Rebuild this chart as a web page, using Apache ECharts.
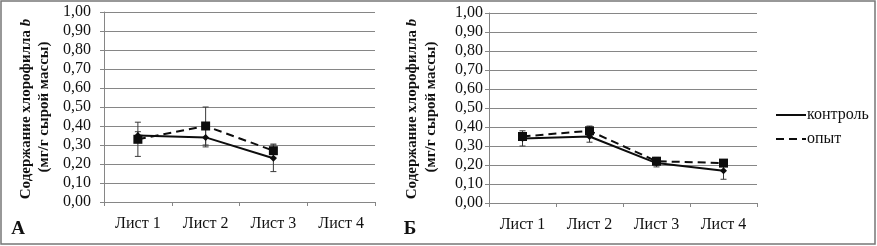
<!DOCTYPE html>
<html><head><meta charset="utf-8">
<script src="https://cdn.jsdelivr.net/npm/echarts@6/dist/echarts.min.js"></script>
<style>html,body{margin:0;padding:0;background:#fff}#c{width:877px;height:246px}</style>
</head><body><div id="c"></div>
<script>
const categories = ['Лист 1', 'Лист 2', 'Лист 3', 'Лист 4'];
const yTicks = [0, 0.1, 0.2, 0.3, 0.4, 0.5, 0.6, 0.7, 0.8, 0.9, 1.0];
// Panel A
const controlA = [0.35, 0.34, 0.23, null];
const controlAErr = [0.02, 0.05, 0.07, null];
const opytA = [0.33, 0.40, 0.27, null];
const opytAErr = [0.09, 0.10, 0.035, null];
// Panel Б
const controlB = [0.34, 0.35, 0.21, 0.17];
const controlBErr = [0.04, 0.03, 0.02, 0.045];
const opytB = [0.35, 0.38, 0.22, 0.21];
const opytBErr = [0.02, 0.025, 0.02, 0.01];

const FONT = '"Liberation Serif", "Times New Roman", serif';
const TXT = '#111';
const GRID = '#868686';

function errData(vals, errs) {
  const out = [];
  vals.forEach((v, i) => { if (v != null && errs[i] != null) out.push([i, v - errs[i], v + errs[i]]); });
  return out;
}
function errSeries(name, vals, errs, idx) {
  return {
    name: name, type: 'custom', xAxisIndex: idx, yAxisIndex: idx, z: 1,
    data: errData(vals, errs),
    renderItem: function (params, api) {
      const lo = api.coord([api.value(0), api.value(1)]);
      const hi = api.coord([api.value(0), api.value(2)]);
      const w = 3;
      const st = { stroke: '#3a3a3a', lineWidth: 1 };
      return { type: 'group', children: [
        { type: 'line', shape: { x1: lo[0], y1: lo[1], x2: hi[0], y2: hi[1] }, style: st },
        { type: 'line', shape: { x1: lo[0] - w, y1: lo[1], x2: lo[0] + w, y2: lo[1] }, style: st },
        { type: 'line', shape: { x1: hi[0] - w, y1: hi[1], x2: hi[0] + w, y2: hi[1] }, style: st }
      ]};
    }
  };
}
function lineSeries(name, vals, idx, dashed) {
  return {
    name: name, type: 'line', xAxisIndex: idx, yAxisIndex: idx, z: 3,
    data: vals, connectNulls: false,
    symbol: dashed ? 'rect' : 'diamond', symbolSize: dashed ? 9 : 7,
    itemStyle: { color: '#0d0d0d' },
    lineStyle: { color: '#0d0d0d', width: 2, type: dashed ? [8, 5] : 'solid' }
  };
}
function xAx(idx) {
  return {
    type: 'category', gridIndex: idx, data: categories, boundaryGap: true,
    axisLine: { lineStyle: { color: GRID } },
    axisTick: { show: true, length: 4, lineStyle: { color: GRID } },
    axisLabel: { fontFamily: FONT, fontSize: 16, color: TXT, margin: 14 }
  };
}
function yAx(idx, margin) {
  return {
    type: 'value', gridIndex: idx, min: yTicks[0], max: yTicks[yTicks.length - 1], interval: 0.1,
    axisLine: { show: true, lineStyle: { color: GRID } },
    axisTick: { show: true, length: 4, lineStyle: { color: GRID } },
    splitLine: { lineStyle: { color: GRID } },
    axisLabel: { fontFamily: FONT, fontSize: 16, color: TXT, margin: margin,
      formatter: v => v.toFixed(2).replace('.', ',') }
  };
}
function yTitle(x1, x2) {
  return [
    { type: 'text', x: x1, y: 109, rotation: Math.PI / 2,
      style: { text: 'Содержание хлорофилла {i|b}', fill: TXT, font: 'bold 15px ' + FONT,
        align: 'center', verticalAlign: 'middle',
        rich: { i: { fontStyle: 'italic', fontWeight: 'bold', fontSize: 15, fontFamily: FONT, fill: TXT } } } },
    { type: 'text', x: x2, y: 107, rotation: Math.PI / 2,
      style: { text: '(мг/г сырой массы)', fill: TXT, font: 'bold 15px ' + FONT,
        align: 'center', verticalAlign: 'middle' } }
  ];
}

const chart = echarts.init(document.getElementById('c'), null, { renderer: 'canvas' });
chart.setOption({
  animation: false,
  backgroundColor: '#fff',
  grid: [
    { left: 104, top: 12, width: 271, height: 190 },
    { left: 489, top: 13, width: 268, height: 190 }
  ],
  xAxis: [xAx(0), xAx(1)],
  yAxis: [yAx(0, 13), yAx(1, 6)],
  legend: {
    data: ['контроль', 'опыт'], orient: 'vertical', left: 770, top: 102,
    itemWidth: 30, itemHeight: 12, itemGap: 8,
    itemStyle: { opacity: 0 },
    textStyle: { fontFamily: FONT, fontSize: 16, color: TXT, padding: [0, 0, 0, -4] }
  },
  graphic: [
    { type: 'rect', shape: { x: 1, y: 1, width: 874, height: 243 }, style: { fill: 'none', stroke: '#777', lineWidth: 1.5 } },
    ...yTitle(26, 44),
    ...yTitle(412, 431),
    { type: 'text', x: 18, y: 229, style: { text: 'А', font: 'bold 19px ' + FONT, fill: TXT, align: 'center', verticalAlign: 'middle' } },
    { type: 'text', x: 410, y: 229, style: { text: 'Б', font: 'bold 19px ' + FONT, fill: TXT, align: 'center', verticalAlign: 'middle' } }
  ],
  series: [
    errSeries('errCA', controlA, controlAErr, 0),
    errSeries('errOA', opytA, opytAErr, 0),
    lineSeries('контроль', controlA, 0, false),
    lineSeries('опыт', opytA, 0, true),
    errSeries('errCB', controlB, controlBErr, 1),
    errSeries('errOB', opytB, opytBErr, 1),
    lineSeries('контроль', controlB, 1, false),
    lineSeries('опыт', opytB, 1, true)
  ]
});
</script></body></html>
